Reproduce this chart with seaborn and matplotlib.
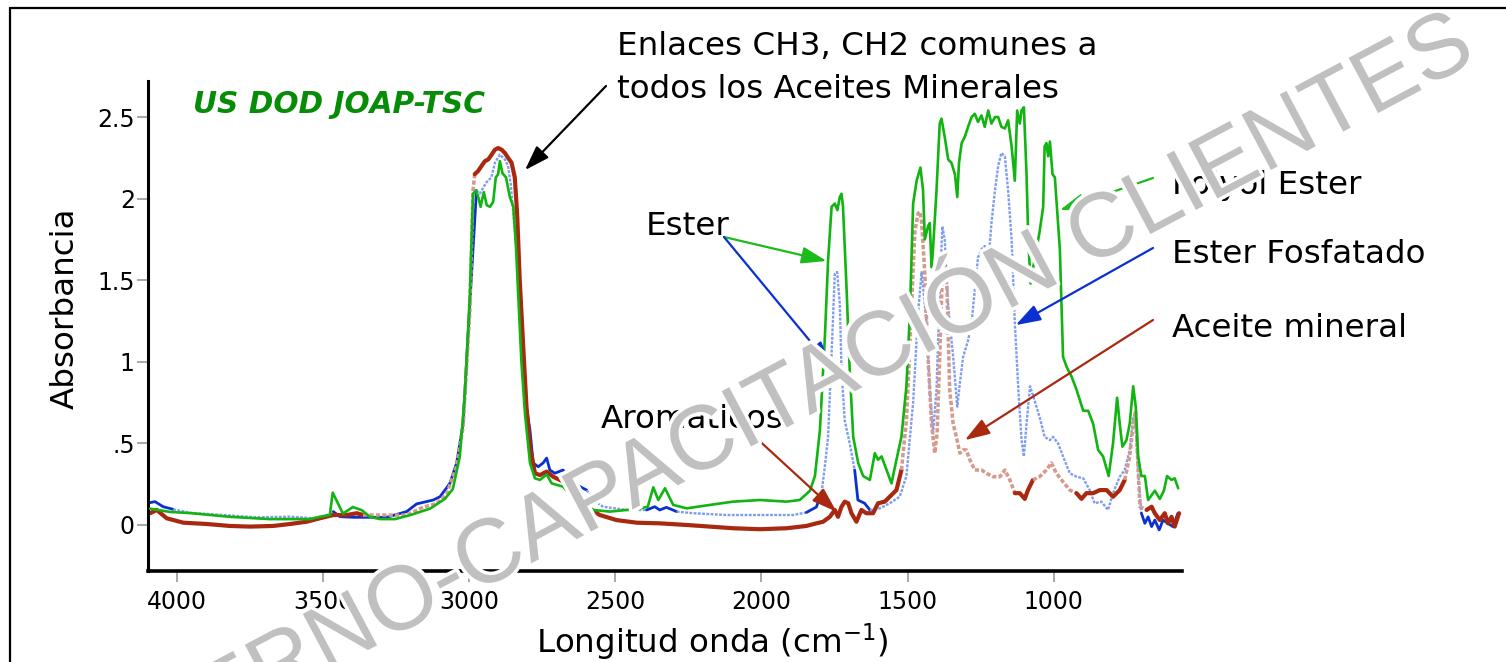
import matplotlib
matplotlib.use("Agg")
import matplotlib.pyplot as plt
import seaborn as sns
import pandas as pd
from matplotlib import patheffects as pe
from matplotlib.lines import Line2D

# ---------------- data ----------------
tick_wavenumbers = [4000, 3500, 3000, 2500, 2000, 1500, 1000]
absorbance_ticks = [0, 0.5, 1, 1.5, 2, 2.5]
absorbance_tick_labels = ["0", ".5", "1", "1.5", "2", "2.5"]

polyol_wn = [4092, 4024, 3956, 3819, 3682, 3545, 3511, 3477, 3467, 3432,
             3398, 3367, 3340, 3305, 3254, 3203, 3134, 3100, 3083, 3056,
             3032, 3015, 2998, 2987, 2977, 2969, 2961, 2950, 2940, 2929,
             2918, 2909, 2901, 2895, 2886, 2874, 2861, 2849, 2840, 2832,
             2821, 2809, 2792, 2775, 2758, 2735, 2718, 2679, 2645, 2621,
             2576, 2519, 2461, 2416, 2389, 2370, 2353, 2330, 2302, 2256,
             2176, 2097, 2005, 1914, 1869, 1834, 1817, 1800, 1783, 1772,
             1760, 1749, 1740, 1732, 1726, 1721, 1709, 1698, 1686, 1669,
             1652, 1629, 1612, 1601, 1589, 1572, 1555, 1538, 1521, 1504,
             1492, 1481, 1469, 1456, 1447, 1441, 1430, 1424, 1418, 1413,
             1401, 1390, 1384, 1373, 1361, 1350, 1338, 1330, 1324, 1315,
             1304, 1293, 1281, 1270, 1259, 1247, 1236, 1224, 1213, 1201,
             1190, 1179, 1167, 1156, 1144, 1133, 1125, 1116, 1110, 1102,
             1093, 1087, 1079, 1070, 1059, 1048, 1036, 1031, 1025, 1019,
             1013, 1004, 996, 979, 968, 956, 939, 922, 899, 882,
             865, 848, 831, 812, 797, 783, 774, 765, 751, 740,
             728, 719, 711, 700, 688, 677, 660, 654, 637, 623,
             612, 597, 586, 574]
polyol_abs = [0.10, 0.08, 0.073, 0.05, 0.036, 0.036, 0.05, 0.06, 0.198, 0.07,
              0.11, 0.09, 0.05, 0.036, 0.036, 0.06, 0.10, 0.14, 0.16, 0.22,
              0.42, 0.80, 1.40, 2.03, 2.05, 2.01, 1.95, 2.04, 1.96, 1.95,
              1.98, 2.13, 2.15, 2.23, 2.155, 2.13, 2.01, 1.95, 1.71, 1.40,
              0.99, 0.68, 0.38, 0.286, 0.276, 0.31, 0.255, 0.235, 0.17, 0.153,
              0.092, 0.082, 0.092, 0.102, 0.112, 0.231, 0.153, 0.225, 0.123, 0.102,
              0.123, 0.143, 0.153, 0.143, 0.153, 0.21, 0.30, 0.58, 1.15, 1.62,
              1.95, 1.97, 1.93, 2.01, 2.03, 1.95, 1.46, 0.95, 0.54, 0.38,
              0.30, 0.276, 0.44, 0.40, 0.42, 0.337, 0.255, 0.40, 0.54, 0.85,
              1.30, 1.97, 2.11, 2.19, 2.05, 1.75, 1.83, 1.85, 1.58, 1.69,
              2.05, 2.46, 2.49, 2.38, 2.24, 2.22, 2.15, 2.01, 2.22, 2.34,
              2.38, 2.44, 2.50, 2.52, 2.47, 2.51, 2.44, 2.54, 2.46, 2.50,
              2.50, 2.44, 2.43, 2.48, 2.32, 2.11, 2.54, 2.46, 2.54, 2.56,
              2.15, 1.75, 1.48, 1.58, 1.69, 1.80, 1.95, 2.32, 2.34, 2.26,
              2.35, 2.15, 2.13, 1.69, 1.03, 0.97, 0.91, 0.83, 0.70, 0.70,
              0.62, 0.46, 0.42, 0.30, 0.50, 0.78, 0.62, 0.48, 0.52, 0.62,
              0.85, 0.72, 0.42, 0.30, 0.30, 0.153, 0.195, 0.21, 0.16, 0.21,
              0.30, 0.276, 0.286, 0.225]

fosfatado_wn = [4092, 4075, 4047, 4013, 3956, 3842, 3727, 3613, 3534, 3488,
                3465, 3442, 3397, 3340, 3283, 3214, 3180, 3123, 3100, 3066,
                3043, 3021, 2998, 2975, 2964, 2941, 2924, 2912, 2895, 2878,
                2867, 2858, 2844, 2827, 2815, 2804, 2792, 2781, 2764, 2747,
                2735, 2724, 2707, 2679, 2656, 2621, 2598, 2576, 2542, 2461,
                2393, 2365, 2348, 2325, 2290, 2234, 2119, 2005, 1892, 1846,
                1812, 1794, 1783, 1772, 1760, 1749, 1741, 1732, 1726, 1715,
                1698, 1681, 1670, 1647, 1629, 1595, 1561, 1527, 1504, 1481,
                1464, 1452, 1435, 1424, 1413, 1401, 1390, 1381, 1373, 1361,
                1344, 1330, 1321, 1310, 1293, 1281, 1270, 1259, 1247, 1236,
                1224, 1213, 1201, 1190, 1179, 1167, 1156, 1144, 1133, 1121,
                1110, 1102, 1093, 1081, 1070, 1059, 1048, 1031, 1013, 1002,
                985, 968, 945, 922, 899, 877, 860, 837, 814, 797,
                774, 757, 740, 728, 720, 711, 700, 688, 677, 665,
                654, 639, 626, 609, 592, 575]
fosfatado_abs = [0.137, 0.143, 0.112, 0.096, 0.075, 0.061, 0.047, 0.051, 0.041, 0.061,
                 0.082, 0.051, 0.047, 0.047, 0.047, 0.082, 0.129, 0.153, 0.173, 0.255,
                 0.38, 0.62, 1.35, 2.05, 2.03, 2.10, 2.13, 2.22, 2.27, 2.24,
                 2.20, 2.09, 1.81, 1.45, 1.05, 0.72, 0.58, 0.38, 0.357, 0.38,
                 0.41, 0.337, 0.317, 0.337, 0.276, 0.235, 0.214, 0.153, 0.112, 0.092,
                 0.092, 0.112, 0.092, 0.108, 0.082, 0.072, 0.061, 0.061, 0.061, 0.077,
                 0.11, 0.20, 0.36, 0.54, 1.05, 1.54, 1.55, 1.36, 0.95, 0.64,
                 0.50, 0.337, 0.153, 0.133, 0.092, 0.102, 0.133, 0.173, 0.30, 0.75,
                 1.30, 1.55, 1.24, 0.83, 0.56, 0.83, 1.44, 1.83, 1.75, 1.34,
                 1.03, 0.725, 0.87, 1.03, 1.13, 1.24, 1.44, 1.64, 1.69, 1.71,
                 1.60, 1.85, 2.05, 2.20, 2.28, 2.26, 2.05, 1.75, 1.24, 0.83,
                 0.52, 0.42, 0.62, 0.85, 0.79, 0.725, 0.66, 0.54, 0.52, 0.54,
                 0.50, 0.42, 0.317, 0.296, 0.286, 0.214, 0.133, 0.143, 0.092, 0.195,
                 0.296, 0.337, 0.46, 0.66, 0.62, 0.317, 0.072, 0.01, 0.05, -0.01,
                 0.03, -0.03, 0.03, 0.01, -0.01, 0.072]

mineral_wn = [4092, 4069, 4035, 3978, 3898, 3819, 3750, 3671, 3613, 3556,
              3511, 3465, 3419, 3385, 3363, 3305, 3214, 3157, 3112, 3077,
              3043, 3021, 2998, 2987, 2981, 2969, 2958, 2946, 2935, 2923,
              2912, 2901, 2889, 2878, 2867, 2855, 2844, 2836, 2827, 2815,
              2804, 2792, 2775, 2758, 2735, 2713, 2690, 2667, 2644, 2598,
              2553, 2496, 2427, 2348, 2256, 2176, 2097, 2005, 1914, 1846,
              1812, 1789, 1766, 1749, 1738, 1726, 1715, 1703, 1692, 1675,
              1658, 1641, 1618, 1601, 1578, 1555, 1538, 1521, 1504, 1492,
              1481, 1475, 1464, 1458, 1452, 1441, 1430, 1418, 1407, 1399,
              1390, 1381, 1373, 1365, 1356, 1344, 1333, 1321, 1310, 1299,
              1287, 1270, 1247, 1230, 1208, 1184, 1167, 1150, 1133, 1116,
              1099, 1088, 1071, 1048, 1025, 1008, 991, 968, 945, 922,
              905, 888, 865, 842, 819, 797, 774, 757, 740, 728,
              720, 713, 705, 682, 665, 654, 637, 620, 609, 597,
              586, 571]
mineral_abs = [0.072, 0.092, 0.041, 0.014, 0.006, -0.006, -0.01, -0.006, 0.006, 0.02,
               0.041, 0.061, 0.061, 0.072, 0.061, 0.061, 0.06, 0.11, 0.13, 0.19,
               0.36, 0.60, 1.30, 2.05, 2.15, 2.17, 2.20, 2.23, 2.24, 2.27,
               2.30, 2.31, 2.30, 2.28, 2.25, 2.22, 2.13, 1.91, 1.50, 1.09,
               0.725, 0.48, 0.317, 0.306, 0.327, 0.296, 0.276, 0.255, 0.214, 0.112,
               0.061, 0.03, 0.014, 0.01, 0.0, -0.01, -0.02, -0.026, -0.02, -0.006,
               0.01, 0.02, 0.05, 0.092, 0.05, 0.112, 0.143, 0.133, 0.072, 0.02,
               0.092, 0.072, 0.072, 0.133, 0.143, 0.184, 0.214, 0.337, 0.64, 1.10,
               1.56, 1.80, 1.91, 1.92, 1.86, 1.54, 1.03, 0.62, 0.44, 0.56,
               1.03, 1.54, 1.60, 1.44, 0.83, 0.62, 0.54, 0.44, 0.46, 0.46,
               0.40, 0.337, 0.337, 0.317, 0.296, 0.296, 0.337, 0.276, 0.195, 0.195,
               0.16, 0.214, 0.276, 0.296, 0.337, 0.38, 0.317, 0.265, 0.214, 0.195,
               0.16, 0.195, 0.195, 0.214, 0.214, 0.173, 0.214, 0.276, 0.42, 0.62,
               0.70, 0.42, 0.112, 0.092, 0.112, 0.072, 0.03, 0.072, 0.01, 0.05,
               -0.01, 0.072]

assert len(polyol_wn) == len(polyol_abs)
assert len(fosfatado_wn) == len(fosfatado_abs)
assert len(mineral_wn) == len(mineral_abs)

# wavenumber ranges where the scanned trace is rendered pale / dotted
fosfatado_faint = [(4024, 3487), (2991, 2840), (2598, 2410), (2290, 1870),
                   (1794, 1686), (1629, 705)]
mineral_faint = [(3363, 2987), (1527, 1144), (1071, 942), (764, 705)]
polyol_faint = []

# ---------------- style ----------------
sns.set_theme(style="white")
plt.rcParams["font.family"] = ["DejaVu Sans"]
plt.rcParams["mathtext.fontset"] = "dejavusans"
plt.rcParams["text.color"] = "black"

W, H = 1506, 662
fig = plt.figure(figsize=(W / 100, H / 100), dpi=100)
fig.patch.set_facecolor("white")


def fpos(px, py):
    return (px / W, 1 - py / H)


ax = fig.add_axes([148 / W, 1 - 570.5 / H, (1182 - 148) / W, (570.5 - 81) / H])
ax.set_facecolor("none")


def runs(wn, ab, faint):
    flags = [any(lo <= w <= hi for hi, lo in faint) for w in wn]
    out = []
    start = 0
    n = len(wn)
    for i in range(1, n + 1):
        if i == n or flags[i] != flags[start]:
            end = min(i, n - 1)
            out.append((flags[start], wn[start:end + 1], ab[start:end + 1]))
            start = i
    return out


series = [
    ("Ester Fosfatado", fosfatado_wn, fosfatado_abs, fosfatado_faint,
     "#0a30d0", "#7e9cf0", 2.0, 1),
    ("Aceite mineral", mineral_wn, mineral_abs, mineral_faint,
     "#a8290f", "#d59a8c", 3.0, 2),
    ("Polyol Ester", polyol_wn, polyol_abs, polyol_faint,
     "#11b411", "#11b411", 1.9, 3),
]

for name, wn, ab, faint, dark, light, lw, z in series:
    for is_faint, xs, ys in runs(wn, ab, faint):
        df = pd.DataFrame({"wn": xs, "abs": ys})
        sns.lineplot(data=df, x="wn", y="abs", ax=ax, sort=False, estimator=None,
                     color=light if is_faint else dark,
                     linewidth=lw * (0.85 if is_faint else 1.0),
                     linestyle=(0, (1.2, 0.6)) if is_faint else "-",
                     zorder=z, legend=False)

ax.set_xlim(4099, 561)
ax.set_ylim(-0.279, 2.721)
ax.set_xticks(tick_wavenumbers)
ax.set_xticklabels([str(t) for t in tick_wavenumbers])
ax.set_yticks(absorbance_ticks)
ax.set_yticklabels(absorbance_tick_labels)

for s in ["top", "right"]:
    ax.spines[s].set_visible(False)
ax.spines["left"].set_color("black")
ax.spines["left"].set_linewidth(2.2)
ax.spines["bottom"].set_color("black")
ax.spines["bottom"].set_linewidth(2.6)

ax.tick_params(axis="both", which="major", bottom=True, left=True,
               direction="out", color="#9a9a9a", width=1.2)
ax.tick_params(axis="x", length=8, pad=6)
ax.tick_params(axis="y", length=8, pad=1.5)
for lab in ax.get_xticklabels() + ax.get_yticklabels():
    lab.set_fontfamily(["Liberation Sans Narrow", "DejaVu Sans"])
    lab.set_fontsize(17)
    lab.set_color("black")

LABEL_FS = 23.4
ax.set_xlabel("Longitud onda (cm$^{-1}$)", fontsize=LABEL_FS, color="black")
ax.xaxis.label.set_va("baseline")
ax.xaxis.set_label_coords(0.546, (570.5 - 653) / 489.5)
ax.set_ylabel("Absorbancia", fontsize=LABEL_FS, color="black")
ax.yaxis.set_label_coords((81 - 148) / 1034, (570.5 - 308) / 489.5)

# ---------------- annotations ----------------
title_tag = "US DOD JOAP-TSC"
ch_label = ["Enlaces CH3, CH2 comunes a", "todos los Aceites Minerales"]
note_kw = dict(fontsize=LABEL_FS, ha="left", va="baseline", color="black")

fig.text(*fpos(193, 113), title_tag, fontsize=21.3, fontweight="bold",
         fontstyle="italic", color="#068c06", ha="left", va="baseline")
fig.text(*fpos(617, 55), ch_label[0], **note_kw)
fig.text(*fpos(617, 98), ch_label[1], **note_kw)
fig.text(*fpos(646, 235), "Ester", **note_kw)
fig.text(*fpos(1172, 194), "Polyol Ester", **note_kw)
fig.text(*fpos(1172, 263), "Ester Fosfatado", **note_kw)
fig.text(*fpos(1172, 337), "Aceite mineral", **note_kw)
fig.text(*fpos(601, 428), "Aromaticos", **note_kw)


def arrow(tip, start_px, color):
    ax.annotate("", xy=tip, xycoords="data", xytext=fpos(*start_px),
                textcoords="figure fraction", annotation_clip=False,
                arrowprops=dict(arrowstyle="-|>,head_length=0.95,head_width=0.32",
                                color=color, lw=1.6, mutation_scale=16,
                                shrinkA=0, shrinkB=0), zorder=6)


arrow((2809, 2.175), (606, 86), "black")
arrow((1777, 1.618), (724, 237), "#1cbb1c")
arrow((1763, 0.974), (724, 237), "#0a30d0")
arrow((979, 1.93), (1153, 178), "#1cbb1c")
arrow((1130, 1.225), (1153, 248), "#0a30d0")
arrow((1304, 0.52), (1153, 320), "#a8290f")
arrow((1743, 0.081), (753, 435), "#a8290f")

# ---------------- watermark & frame ----------------
fig.text(*fpos(782, 430), "INTERNO-CAPACITACIÓN CLIENTES", rotation=28.0,
         rotation_mode="anchor", ha="center", va="baseline",
         fontsize=65.5, family=["Liberation Sans", "DejaVu Sans"],
         color="#c0c0c0", zorder=100,
         path_effects=[pe.withStroke(linewidth=5, foreground="white")])

fig.add_artist(Line2D([10 / W, 1.0], [1 - 8 / H, 1 - 8 / H], color="black",
                      lw=1.6, transform=fig.transFigure, zorder=101))
fig.add_artist(Line2D([10 / W, 10 / W], [1 - 8 / H, 0.0], color="black",
                      lw=1.6, transform=fig.transFigure, zorder=101))

fig.savefig("out.png", dpi=100, facecolor="white")
